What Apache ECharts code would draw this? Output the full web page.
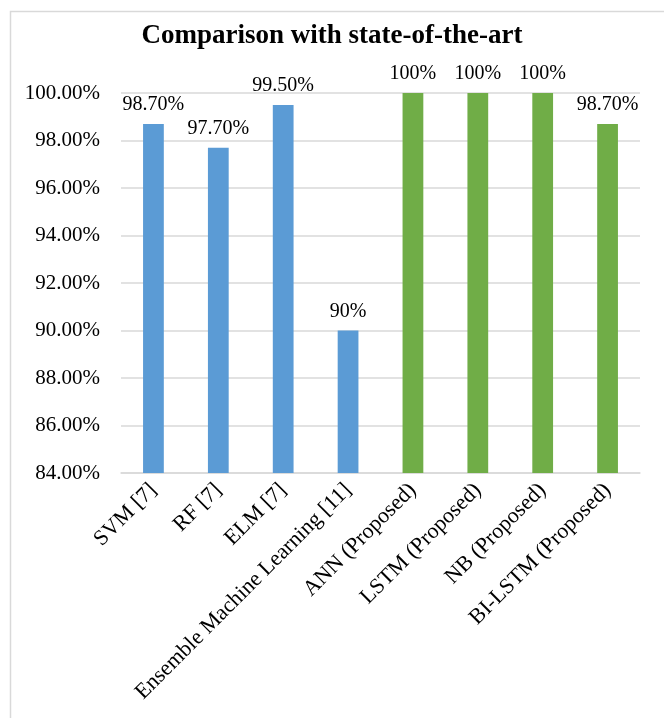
<!DOCTYPE html>
<html>
<head>
<meta charset="utf-8">
<script src="https://cdn.jsdelivr.net/npm/echarts@6/dist/echarts.min.js"></script>
<style>html,body{margin:0;padding:0;background:#fff}#c{width:664px;height:718px}</style>
</head>
<body>
<div id="c"></div>
<script>
const categories = ["SVM [7]", "RF [7]", "ELM [7]", "Ensemble Machine Learning [11]", "ANN (Proposed)", "LSTM (Proposed)", "NB (Proposed)", "BI-LSTM (Proposed)"];
const values = [98.7, 97.7, 99.5, 90, 100, 100, 100, 98.7];
const valueLabels = ["98.70%", "97.70%", "99.50%", "90%", "100%", "100%", "100%", "98.70%"];
const groups = ["prior", "prior", "prior", "prior", "proposed", "proposed", "proposed", "proposed"];
const groupColors = { prior: "#5B9BD5", proposed: "#70AD47" };
const yMin = 84, yMax = 100, yStep = 2;

const font = "'Liberation Serif', 'Times New Roman', serif";
const chart = echarts.init(document.getElementById('c'));
chart.setOption({
  animation: false,
  graphic: [{
    type: 'rect', left: 8, top: 9, silent: true,
    shape: { width: 700, height: 800 },
    style: { fill: 'none', stroke: '#d9d9d9', lineWidth: 1.5 }
  }],
  title: {
    text: 'Comparison with state-of-the-art',
    left: 'center', top: 18,
    textStyle: { fontFamily: font, fontWeight: 'bold', fontSize: 27, color: '#000' }
  },
  grid: { left: 121, right: 24, top: 93, bottom: 245, containLabel: false },
  xAxis: {
    type: 'category', data: categories,
    axisLine: { lineStyle: { color: '#d9d9d9', width: 1.5 } },
    axisTick: { show: false },
    axisLabel: { rotate: 45, interval: 0, margin: 14, fontFamily: font, fontSize: 22, color: '#000' }
  },
  yAxis: {
    type: 'value', min: yMin, max: yMax, interval: yStep,
    axisLine: { show: false }, axisTick: { show: false },
    splitLine: { lineStyle: { color: '#d9d9d9', width: 1.5 } },
    axisLabel: { margin: 21, fontFamily: font, fontSize: 21, color: '#000',
      formatter: v => v.toFixed(2) + '%' }
  },
  series: [{
    type: 'bar', barWidth: '32%',
    data: values.map((v, i) => ({ value: v, itemStyle: { color: groupColors[groups[i]] } })),
    label: {
      show: true, position: 'top', distance: 9,
      fontFamily: font, fontSize: 20, color: '#000',
      formatter: p => valueLabels[p.dataIndex]
    }
  }]
});
</script>
</body>
</html>
